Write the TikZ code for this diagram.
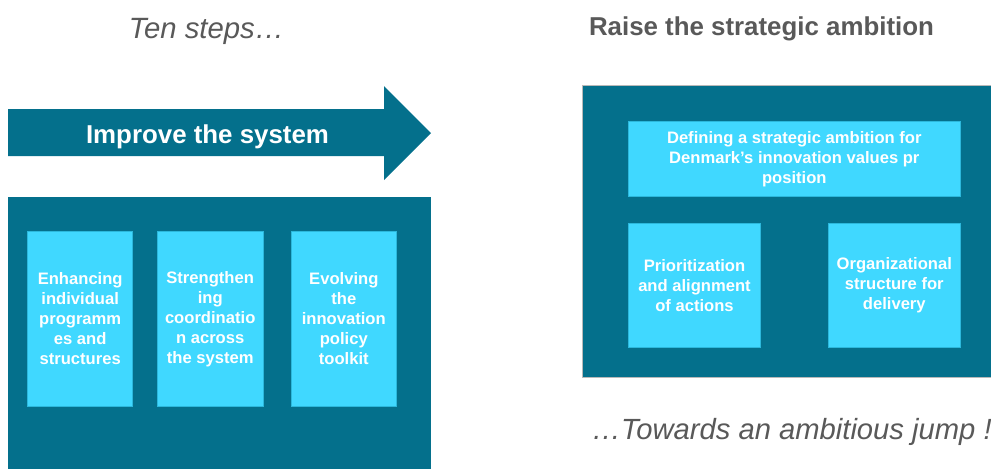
\documentclass[tikz,border=0pt]{standalone}
\usepackage{fontspec}
\setmainfont{Liberation Sans}
\definecolor{darkteal}{HTML}{04708C}
\definecolor{lightcyan}{HTML}{40D8FF}
\definecolor{cyanedge}{HTML}{2CB8DC}
\definecolor{txtgray}{HTML}{595959}
\tikzset{
  panel/.style={fill=darkteal, draw=none},
  cbox/.style={rectangle, fill=lightcyan, draw=cyanedge, line width=0.6pt, inner sep=0pt,
    align=center, text=white, font=\bfseries\fontsize{12.45}{15}\selectfont},
  headline/.style={inner sep=0pt, anchor=base},
}
\begin{document}
\begin{tikzpicture}[x=0.75pt,y=-0.75pt]
\useasboundingbox (0,0) rectangle (991,469);
% left part
\node[headline, text=txtgray, font=\itshape\fontsize{22}{26}\selectfont] (ten) at (206.5,38) {Ten steps…};
\fill[darkteal] (8,109) -- (384,109) -- (384,86) -- (431,133) -- (384,180) -- (384,156) -- (8,156) -- cycle;
\node[headline, text=white, font=\bfseries\fontsize{19.4}{23}\selectfont] (improve) at (207.5,143) {Improve the system};
\fill[panel] (8,197) rectangle (431,469);
\node[cbox, minimum width=78.75pt, minimum height=131.8pt] (b1) at (80.2,318.8) {Enhancing\\individual\\programm\\es and\\structures};
\node[cbox, minimum width=79.3pt, minimum height=131.8pt] (b2) at (210.2,318.8) {Strengthen\\ing\\coordinatio\\n across\\the system};
\node[cbox, minimum width=78.75pt, minimum height=131.8pt] (b3) at (343.8,318.8) {Evolving\\the\\innovation\\policy\\toolkit};
% right part
\node[headline, text=txtgray, font=\bfseries\fontsize{19.4}{23}\selectfont] (raise) at (761.5,35) {Raise the strategic ambition};
\fill[darkteal, draw=gray!55, line width=0.7pt] (582.7,85) rectangle (995,377.3);
\node[cbox, minimum width=249pt, minimum height=56.8pt] (top) at (794.3,158.9) {Defining a strategic ambition for\\Denmark’s innovation values pr\\position};
\node[cbox, minimum width=99.3pt, minimum height=93.3pt] (pa) at (694.5,285.5) {Prioritization\\and alignment\\of actions};
\node[cbox, minimum width=99pt, minimum height=93.3pt] (pb) at (894.3,285.5) {Organizational\\structure for\\delivery};
\node[inner sep=0pt, anchor=base west, text=txtgray, font=\itshape\fontsize{21.9}{26}\selectfont] (towards) at (591.7,439) {…Towards an ambitious jump !};
\end{tikzpicture}
\end{document}
